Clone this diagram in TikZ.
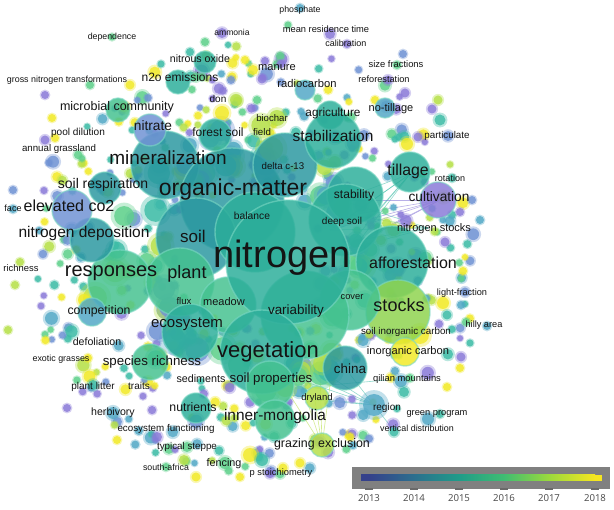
\documentclass[tikz,border=0pt]{standalone}
\usepackage{fontspec}
\setmainfont{Liberation Sans}
\newfontfamily\barfont{Open Sans}
\definecolor{pc0}{HTML}{8A7AD8}
\definecolor{pc1}{HTML}{6F92D4}
\definecolor{pc2}{HTML}{52A8C6}
\definecolor{pc3}{HTML}{3CBCA6}
\definecolor{pc4}{HTML}{5ED08A}
\definecolor{pc5}{HTML}{B6E048}
\definecolor{pc6}{HTML}{F2EA26}
\definecolor{bA}{HTML}{2A98A0}
\definecolor{bB}{HTML}{2CAE9A}
\definecolor{bC}{HTML}{44C290}
\definecolor{bD}{HTML}{8ED44E}
\definecolor{ringc}{HTML}{7CD8C4}
\definecolor{barbg}{HTML}{808080}
\definecolor{tickc}{HTML}{6A6A6A}
\definecolor{vA}{HTML}{35418B}
\definecolor{vB}{HTML}{2C6F8E}
\definecolor{vC}{HTML}{1F9C89}
\definecolor{vD}{HTML}{40BD72}
\definecolor{vE}{HTML}{9BD93C}
\definecolor{vF}{HTML}{F6E620}
\newcommand{\fz}[1]{\fontsize{#1}{#1}\selectfont}
\newcommand{\sdot}[4]{%
  \fill[#4, opacity=.35] (#1,#2) circle ({#3*1.35pt});
  \fill[#4, opacity=.8] (#1,#2) circle ({#3*1pt});}
\newcommand{\bbub}[4]{%
  \fill[#4, opacity=.84] (#1,#2) circle ({#3*1pt});
  \draw[ringc, opacity=.6, line width=1.4pt] (#1,#2) circle ({#3*1pt});}
\tikzset{
  lbl/.style={inner sep=0pt, text height=.72em, text depth=.2em, text=black!92},
  edgeT/.style={draw=pc3, opacity=.55, line width=.6pt},
  edgeP/.style={draw=pc0, opacity=.6, line width=.6pt},
  edgeG/.style={draw=pc5, opacity=.6, line width=.6pt},
  yearlbl/.style={inner sep=0pt, text=black!72, font=\barfont\fz{9.6}}
}
\begin{document}
\begin{tikzpicture}[x=1pt,y=-1pt]
\useasboundingbox (0,0) rectangle (614,510);
\fill[white] (0,0) rectangle (614,510);
% ---------- edges
\foreach \a/\b in {330/230,345/250,352/215,360/240,340/200,365/225}{
  \draw[edgeT] (\a,\b) -- (410,174);
  \draw[edgeP] (\a,\b) -- (440,200);
  \draw[edgeT] (\a,\b) -- (428,228);
}
\foreach \a/\b in {300/380,320/370,290/395,315/400,330/385}{
  \draw[edgeT] (\a,\b) -- (374,405);
  \draw[edgeG] (\a,\b) -- (322,446);
}
\draw[edgeT] (330,385) -- (410,378);
\draw[edgeT] (345,368) -- (395,432);
% ---------- random cloud of small bubbles
\pgfmathsetseed{2718}
\foreach \i in {1,...,470}{
  \pgfmathsetmacro{\ang}{360*rnd}
  \pgfmathsetmacro{\rr}{sqrt(0.10+0.90*rnd)}
  \pgfmathsetmacro{\px}{252+228*\rr*cos(\ang)}
  \pgfmathsetmacro{\py}{258+218*\rr*sin(\ang)}
  \pgfmathsetmacro{\rad}{3+4.2*rnd*rnd}
  \pgfmathtruncatemacro{\ci}{min(6,int(7*rnd))}
  \sdot{\px}{\py}{\rad}{pc\ci}
}
% ---------- medium bubbles around the core
\pgfmathsetseed{917}
\foreach \i in {1,...,70}{
  \pgfmathsetmacro{\ang}{360*rnd}
  \pgfmathsetmacro{\rr}{0.42+0.22*rnd}
  \pgfmathsetmacro{\px}{255+225*\rr*cos(\ang)}
  \pgfmathsetmacro{\py}{262+215*\rr*sin(\ang)}
  \pgfmathsetmacro{\rad}{6+6*rnd}
  \pgfmathtruncatemacro{\ci}{min(5,1+int(5*rnd))}
  \sdot{\px}{\py}{\rad}{pc\ci}
}
% ---------- explicit small bubbles near outer labels
\sdot{300}{8}{4}{pc2}
\sdot{112}{37}{3.5}{pc4}
\sdot{222}{33}{5}{pc0}
\sdot{330}{34}{5}{pc0}
\sdot{347}{44}{4}{pc0}
\sdot{288}{25}{3.5}{pc4}
\sdot{403}{54}{4}{pc1}
\sdot{397}{65}{4}{pc4}
\sdot{388}{80}{4.5}{pc0}
\sdot{405}{93}{4.5}{pc0}
\sdot{375}{100}{4}{pc6}
\sdot{438}{100}{4.5}{pc5}
\sdot{432}{109}{4.5}{pc0}
\sdot{440}{120}{5.5}{pc3}
\sdot{448}{136}{5}{pc1}
\sdot{418}{137}{4.5}{pc0}
\sdot{407}{144}{6}{pc6}
\sdot{452}{178}{4}{pc3}
\sdot{472}{200}{4}{pc1}
\sdot{460}{212}{4}{pc0}
\sdot{480}{220}{4}{pc2}
\sdot{445}{242}{4.5}{pc0}
\sdot{463}{271}{4}{pc6}
\sdot{465}{292}{4.5}{pc1}
\sdot{443}{303}{6}{pc6}
\sdot{461}{305}{4}{pc2}
\sdot{447}{315}{4.5}{pc3}
\sdot{487}{326}{4}{pc2}
\sdot{466}{322}{4}{pc4}
\sdot{439}{324}{4}{pc0}
\sdot{470}{343}{3.5}{pc3}
\sdot{461}{357}{4.5}{pc0}
\sdot{460}{368}{4}{pc6}
\sdot{395}{371}{4}{pc2}
\sdot{410}{378}{4}{pc4}
\sdot{447}{387}{4}{pc6}
\sdot{404}{392}{5}{pc3}
\sdot{428}{419}{6}{pc2}
\sdot{440}{414}{4}{pc3}
\sdot{394}{432}{4.5}{pc3}
\sdot{374}{405}{11}{pc2}
\sdot{352}{434}{4.5}{pc0}
\sdot{350}{437}{4}{pc6}
\sdot{166}{467}{4}{pc4}
\sdot{196}{477}{4.5}{pc6}
\sdot{184}{460}{5}{pc5}
\sdot{225}{463}{6}{pc4}
\sdot{250}{455}{7}{pc6}
\sdot{240}{477}{4}{pc6}
\sdot{262}{460}{6}{pc3}
\sdot{283}{468}{4.5}{pc6}
\sdot{300}{463}{4.5}{pc6}
\sdot{187}{447}{5}{pc4}
\sdot{157}{437}{5}{pc0}
\sdot{117}{440}{4}{pc6}
\sdot{113}{413}{6}{pc2}
\sdot{93}{385}{5}{pc3}
\sdot{67}{408}{4}{pc0}
\sdot{88}{358}{4}{pc6}
\sdot{8}{330}{4}{pc5}
\sdot{15}{285}{4}{pc5}
\sdot{20}{262}{4}{pc5}
\sdot{13}{209}{4}{pc2}
\sdot{13}{190}{4}{pc1}
\sdot{55}{138}{4}{pc6}
\sdot{45}{140}{4.5}{pc0}
\sdot{52}{118}{4}{pc6}
\sdot{45}{95}{4}{pc0}
\sdot{90}{85}{4}{pc4}
\sdot{130}{85}{4.5}{pc6}
\sdot{161}{64}{3.5}{pc3}
\sdot{190}{52}{4}{pc3}
\sdot{205}{42}{4}{pc4}
\sdot{245}{60}{4}{pc6}
\sdot{265}{61}{4}{pc0}
\sdot{262}{79}{4.5}{pc0}
\sdot{281}{64}{4}{pc0}
\sdot{231}{80}{4}{pc1}
\sdot{257}{100}{4}{pc4}
\sdot{236}{100}{6}{pc5}
\sdot{222}{113}{7}{pc6}
\sdot{277}{118}{8}{pc5}
\sdot{253}{70}{5}{pc6}
\sdot{95}{298}{12}{pc5}
\sdot{84}{300}{6}{pc6}
\sdot{420}{335}{9}{pc6}
% ---------- big central bubbles
\bbub{165}{165}{34}{bA}
\bbub{232}{200}{52}{bA}
\bbub{285}{165}{32}{bA}
\bbub{196}{238}{40}{bA}
\bbub{120}{282}{32}{bC}
\bbub{92}{240}{22}{bA}
\bbub{72}{210}{20}{pc1}
\bbub{105}{188}{16}{bA}
\bbub{150}{130}{16}{pc1}
\bbub{118}{110}{12}{bC}
\bbub{178}{82}{12}{bB}
\bbub{205}{62}{11}{bB}
\bbub{215}{135}{16}{bB}
\bbub{330}{115}{14}{bB}
\bbub{305}{90}{10}{pc2}
\bbub{385}{108}{10}{pc2}
\bbub{333}{140}{28}{bB}
\bbub{355}{195}{28}{bB}
\bbub{345}{220}{36}{bB}
\bbub{255}{232}{40}{bB}
\bbub{410}{172}{20}{bB}
\bbub{438}{200}{18}{pc0}
\bbub{392}{262}{36}{bB}
\bbub{398}{312}{32}{bD}
\bbub{405}{352}{14}{pc6}
\bbub{350}{300}{30}{bC}
\bbub{180}{282}{34}{bC}
\bbub{228}{305}{28}{bC}
\bbub{305}{315}{44}{bC}
\bbub{288}{262}{62}{bB}
\bbub{92}{312}{14}{pc2}
\bbub{190}{332}{28}{bB}
\bbub{150}{362}{18}{bC}
\bbub{262}{352}{42}{bB}
\bbub{345}{368}{22}{bA}
\bbub{270}{385}{24}{bC}
\bbub{196}{408}{15}{bB}
\bbub{275}{420}{20}{bC}
\bbub{322}{445}{12}{pc5}
\bbub{317}{398}{12}{pc5}
% ---------- labels
\node[lbl, font=\fz{8.8}] (phosphate) at (300,10) {phosphate};
\node[lbl, font=\fz{9.3}] (mrt) at (326,30) {mean residence time};
\node[lbl, font=\fz{8.8}] (dependence) at (112,37) {dependence};
\node[lbl, font=\fz{8.6}] (ammonia) at (232,33) {ammonia};
\node[lbl, font=\fz{9}] (calibration) at (346,44) {calibration};
\node[lbl, font=\fz{9.4}] (sizefr) at (396,65) {size fractions};
\node[lbl, font=\fz{9.2}] (reforest) at (384,80) {reforestation};
\node[lbl, font=\fz{10.6}] (nitrous) at (200,60) {nitrous oxide};
\node[lbl, font=\fz{11.1}] (manure) at (277,68) {manure};
\node[lbl, font=\fz{8.9}] (gross) at (67,80) {gross nitrogen transformations};
\node[lbl, font=\fz{12}] (ntwoo) at (180,79) {n2o emissions};
\node[lbl, font=\fz{11.2}] (radiocarbon) at (307,85) {radiocarbon};
\node[lbl, font=\fz{10}] (don) at (218,100) {don};
\node[lbl, font=\fz{12.5}] (microbial) at (117,108) {microbial community};
\node[lbl, font=\fz{11.8}] (agriculture) at (333,114) {agriculture};
\node[lbl, font=\fz{11}] (notillage) at (391,109) {no-tillage};
\node[lbl, font=\fz{9.6}] (biochar) at (272,119) {biochar};
\node[lbl, font=\fz{13.7}] (nitrate) at (153,128) {nitrate};
\node[lbl, font=\fz{10.1}] (pool) at (78,133) {pool dilution};
\node[lbl, font=\fz{12}] (forestsoil) at (218,134) {forest soil};
\node[lbl, font=\fz{9.7}] (field) at (262,133) {field};
\node[lbl, font=\fz{15.5}] (stabilization) at (333,139) {stabilization};
\node[lbl, font=\fz{9.8}] (particulate) at (447,136) {particulate};
\node[lbl, font=\fz{9.7}] (annual) at (59,149) {annual grassland};
\node[lbl, font=\fz{19}] (mineralization) at (168,162) {mineralization};
\node[lbl, font=\fz{9.7}] (deltac) at (283,167) {delta c-13};
\node[lbl, font=\fz{15.8}] (tillage) at (408,173) {tillage};
\node[lbl, font=\fz{9}] (rotation) at (450,179) {rotation};
\node[lbl, font=\fz{14}] (soilresp) at (103,186) {soil respiration};
\node[lbl, font=\fz{23}] (orgmatter) at (233,193) {organic-matter};
\node[lbl, font=\fz{12}] (stability) at (354,196) {stability};
\node[lbl, font=\fz{13.7}] (cultivation) at (439,199) {cultivation};
\node[lbl, font=\fz{9}] (face) at (13,209) {face};
\node[lbl, font=\fz{16}] (elevated) at (69,209) {elevated co2};
\node[lbl, font=\fz{10.3}] (balance) at (252,217) {balance};
\node[lbl, font=\fz{10}] (deepsoil) at (342,222) {deep soil};
\node[lbl, font=\fz{11}] (nstocks) at (434,229) {nitrogen stocks};
\node[lbl, font=\fz{15.5}] (ndep) at (84,235) {nitrogen deposition};
\node[lbl, font=\fz{17}] (soil) at (193,240) {soil};
\node[lbl, font=\fz{38}] (nitrogen) at (282,265) {nitrogen};
\node[lbl, font=\fz{16}] (afforestation) at (413,266) {afforestation};
\node[lbl, font=\fz{9.4}] (richness) at (21,269) {richness};
\node[lbl, font=\fz{20}] (responses) at (111,274) {responses};
\node[lbl, font=\fz{18}] (plant) at (187,276) {plant};
\node[lbl, font=\fz{9.2}] (lightfr) at (462,293) {light-fraction};
\node[lbl, font=\fz{9.3}] (cover) at (352,297) {cover};
\node[lbl, font=\fz{9.6}] (flux) at (184,302) {flux};
\node[lbl, font=\fz{11}] (meadow) at (224,303) {meadow};
\node[lbl, font=\fz{12.3}] (competition) at (99,312) {competition};
\node[lbl, font=\fz{13.4}] (variability) at (296,312) {variability};
\node[lbl, font=\fz{18}] (stocks) at (399,309) {stocks};
\node[lbl, font=\fz{15}] (ecosystem) at (187,325) {ecosystem};
\node[lbl, font=\fz{9.2}] (hilly) at (484,325) {hilly area};
\node[lbl, font=\fz{9.8}] (soilinorg) at (406,332) {soil inorganic carbon};
\node[lbl, font=\fz{10.6}] (defoliation) at (97,343) {defoliation};
\node[lbl, font=\fz{8.9}] (exotic) at (61,359) {exotic grasses};
\node[lbl, font=\fz{13.3}] (specrich) at (152,363) {species richness};
\node[lbl, font=\fz{22}] (vegetation) at (268,355) {vegetation};
\node[lbl, font=\fz{11.1}] (inorgc) at (408,352) {inorganic carbon};
\node[lbl, font=\fz{13.4}] (china) at (350,371) {china};
\node[lbl, font=\fz{10}] (plantlitter) at (93,387) {plant litter};
\node[lbl, font=\fz{10}] (traits) at (139,387) {traits};
\node[lbl, font=\fz{10.7}] (sediments) at (201,380) {sediments};
\node[lbl, font=\fz{13.3}] (soilprop) at (271,380) {soil properties};
\node[lbl, font=\fz{9.4}] (qilian) at (407,379) {qilian mountains};
\node[lbl, font=\fz{9.5}] (dryland) at (317,398) {dryland};
\node[lbl, font=\fz{10.6}] (herbivory) at (113,413) {herbivory};
\node[lbl, font=\fz{12.3}] (nutrients) at (193,409) {nutrients};
\node[lbl, font=\fz{10}] (region) at (387,408) {region};
\node[lbl, font=\fz{15.4}] (innermong) at (275,418) {inner-mongolia};
\node[lbl, font=\fz{9.3}] (greenprog) at (437,413) {green program};
\node[lbl, font=\fz{9.8}] (ecofunc) at (166,429) {ecosystem functioning};
\node[lbl, font=\fz{8.9}] (vertdist) at (417,429) {vertical distribution};
\node[lbl, font=\fz{9.8}] (typical) at (187,447) {typical steppe};
\node[lbl, font=\fz{12.4}] (grazing) at (322,445) {grazing exclusion};
\node[lbl, font=\fz{10.8}] (fencing) at (224,464) {fencing};
\node[lbl, font=\fz{8.8}] (southafrica) at (166,468) {south-africa};
\node[lbl, font=\fz{9.3}] (pstoich) at (281,473) {p stoichiometry};
% ---------- colour bar
\fill[barbg] (352,467) rectangle (610,489);
\foreach \t in {369,414,459,504,549,595}{
  \fill[tickc] (\t-4,488.5) rectangle (\t+4,490.5);
}
\shade[left color=vA, right color=vA] (361,475) rectangle (369,481);
\shade[left color=vA, right color=vB] (369,475) rectangle (414.2,481);
\shade[left color=vB, right color=vC] (414,475) rectangle (459.2,481);
\shade[left color=vC, right color=vD] (459,475) rectangle (504.2,481);
\shade[left color=vD, right color=vE] (504,475) rectangle (549.2,481);
\shade[left color=vE, right color=vF] (549,475) rectangle (595.2,481);
\fill[vF] (595,475) rectangle (602,481);
\node[yearlbl] (ya) at (369,498) {2013};
\node[yearlbl] (yb) at (414,498) {2014};
\node[yearlbl] (yc) at (459,498) {2015};
\node[yearlbl] (yd) at (504,498) {2016};
\node[yearlbl] (ye) at (549,498) {2017};
\node[yearlbl] (yf) at (595,498) {2018};
\end{tikzpicture}
\end{document}
